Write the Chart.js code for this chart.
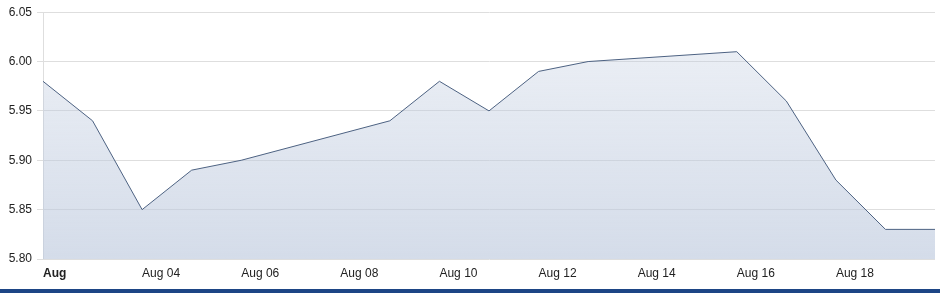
<!DOCTYPE html>
<html>
<head>
<meta charset="utf-8">
<script src="https://cdn.jsdelivr.net/npm/chart.js@4/dist/chart.umd.min.js"></script>
<style>
  html, body { margin:0; padding:0; background:#fff; }
  #wrap { position:relative; width:940px; height:289px; }
  #bar { width:940px; height:4px; background:#1d4585; }
</style>
</head>
<body>
<div id="wrap"><canvas id="c"></canvas></div>
<div id="bar"></div>
<script>
// trading days in August (day of month) and closing values
const days   = [2, 3, 4, 5, 6, 9, 10, 11, 12, 13, 16, 17, 18, 19, 20];
const values = [5.98, 5.94, 5.85, 5.89, 5.90, 5.94, 5.98, 5.95, 5.99, 6.00, 6.01, 5.96, 5.88, 5.83, 5.83];

const xTickDays   = [2, 4, 6, 8, 10, 12, 14, 16, 18];
const xTickLabels = ['Aug', 'Aug 04', 'Aug 06', 'Aug 08', 'Aug 10', 'Aug 12', 'Aug 14', 'Aug 16', 'Aug 18'];
const yTicks = [5.80, 5.85, 5.90, 5.95, 6.00, 6.05];

function fillGradient(ctx){
  const area = ctx.chart.chartArea;
  if (!area) return 'rgba(190,202,222,0.5)';
  const g = ctx.chart.ctx.createLinearGradient(0, area.top, 0, area.bottom);
  g.addColorStop(0, 'rgba(190,202,222,0.25)');
  g.addColorStop(1, 'rgba(190,202,222,0.66)');
  return g;
}

new Chart(document.getElementById('c'), {
  type: 'line',
  data: {
    datasets: [{
      data: days.map((d,i)=>({ x:d, y:values[i] })),
      borderColor: '#4d6282',
      borderWidth: 1,
      backgroundColor: fillGradient,
      fill: 'start',
      tension: 0,
      pointRadius: 0
    }]
  },
  options: {
    responsive: true,
    maintainAspectRatio: false,
    animation: false,
    layout: { padding: { top: 10, right: 5, left: 0, bottom: 0 } },
    plugins: { legend: { display:false }, tooltip: { enabled:false } },
    scales: {
      x: {
        type: 'linear',
        min: days[0],
        max: days[days.length-1],
        afterBuildTicks: s => { s.ticks = xTickDays.map(v=>({ value:v })); },
        afterFit: s => { s.height = 30; },
        grid: { display:false, drawTicks:false },
        border: { display:false },
        ticks: {
          align: 'start',
          padding: 7,
          maxRotation: 0,
          autoSkip: false,
          color: '#222',
          font: c => ({ family:'Arial, "Liberation Sans", sans-serif', size:12, weight: c.index===0 ? 'bold' : 'normal' }),
          callback: v => xTickLabels[xTickDays.indexOf(v)]
        }
      },
      y: {
        min: yTicks[0],
        max: yTicks[yTicks.length-1],
        afterBuildTicks: s => { s.ticks = yTicks.map(v=>({ value:v })); },
        afterFit: s => { s.width = 43; },
        grid: { color:'#dedede', tickLength:6, lineWidth:1 },
        border: { color:'#dedede' },
        ticks: {
          padding: 5,
          color: '#222',
          font: { family:'Arial, "Liberation Sans", sans-serif', size:12 },
          callback: v => v.toFixed(2)
        }
      }
    }
  }
});
</script>
</body>
</html>
